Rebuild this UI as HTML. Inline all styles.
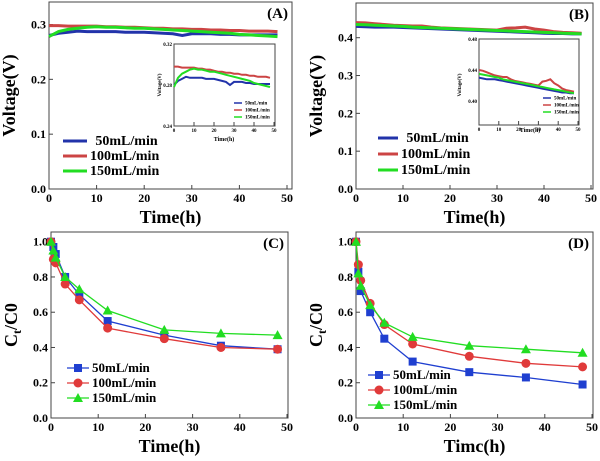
<!DOCTYPE html>
<html><head><meta charset="utf-8"><style>
html,body{margin:0;padding:0;background:#fff}
svg{display:block;font-family:"Liberation Serif",serif;font-weight:bold}
</style></head><body>
<svg id="fig" width="600" height="461" viewBox="0 0 600 461"></svg>
<script>
// ---------- data ----------
const vTimes = [0,2,4,6,8,10,12,14,16,18,20,22,24,26,28,30,32,34,36,38,40,42,44,46,48];
const aBlue  = [0.280,0.284,0.286,0.288,0.287,0.287,0.287,0.287,0.286,0.286,0.286,0.285,0.284,0.283,0.280,0.283,0.283,0.283,0.282,0.282,0.281,0.281,0.281,0.281,0.281];
const aRed   = [0.298,0.298,0.297,0.297,0.297,0.297,0.296,0.296,0.295,0.295,0.294,0.293,0.293,0.292,0.292,0.291,0.291,0.290,0.290,0.289,0.289,0.288,0.288,0.288,0.287];
const aGreen = [0.278,0.287,0.291,0.293,0.295,0.296,0.295,0.295,0.294,0.293,0.293,0.292,0.291,0.290,0.289,0.288,0.287,0.286,0.285,0.284,0.282,0.281,0.280,0.279,0.278];
const bBlue  = [0.430,0.429,0.428,0.428,0.428,0.427,0.426,0.425,0.424,0.423,0.422,0.421,0.420,0.419,0.418,0.417,0.416,0.415,0.414,0.413,0.412,0.411,0.411,0.410,0.410];
const bRed   = [0.440,0.439,0.437,0.435,0.433,0.432,0.431,0.431,0.428,0.426,0.425,0.424,0.423,0.422,0.421,0.420,0.425,0.426,0.428,0.423,0.420,0.416,0.414,0.413,0.412];
const bGreen = [0.435,0.434,0.433,0.432,0.431,0.430,0.428,0.427,0.426,0.425,0.424,0.423,0.422,0.421,0.420,0.419,0.418,0.417,0.416,0.415,0.414,0.413,0.412,0.411,0.410];
const cTimes = [0,0.5,1,3,6,12,24,36,48];
const cBlue  = [1.0,0.97,0.93,0.80,0.70,0.55,0.47,0.41,0.39];
const cRed   = [1.0,0.90,0.88,0.76,0.67,0.51,0.45,0.40,0.39];
const cGreen = [1.0,0.95,0.91,0.80,0.73,0.61,0.50,0.48,0.47];
const dBlue  = [1.0,0.83,0.72,0.60,0.45,0.32,0.26,0.23,0.19];
const dRed   = [1.0,0.87,0.78,0.65,0.53,0.42,0.35,0.31,0.29];
const dGreen = [1.0,0.82,0.75,0.64,0.54,0.46,0.41,0.39,0.37];
const xTicks = [0,10,20,30,40,50];
const seriesLabels = ["50mL/min","100mL/min","150mL/min"];
const BLUE="#1f3fd0", RED="#e03a3a", GREEN="#22dd22";
const LBLUE="#2233aa", LRED="#cc4444";

const NS="http://www.w3.org/2000/svg";
const svg=document.getElementById('fig');
function mk(tag,attrs,parent){const e=document.createElementNS(NS,tag);for(const k in attrs)e.setAttribute(k,attrs[k]);(parent||svg).appendChild(e);return e;}
function txt(s,attrs,parent){const e=mk('text',attrs,parent);e.textContent=s;return e;}

function panel(p){
  const g=mk('g',{});
  
  
  const sx=v=>p.x0+(v-0)/(50-0)*(p.x1-p.x0);
  const sy=v=>p.y0-(v-p.ymin)/(p.ymax-p.ymin)*(p.y0-p.y1);
  const fr=mk('rect',{x:p.x0,y:p.top,width:p.right-p.x0,height:p.y0-p.top,fill:'none',stroke:'#444','stroke-width':1},g);
  
  const fs=p.fs||12;
  xTicks.forEach(t=>{
    mk('line',{x1:sx(t),x2:sx(t),y1:p.y0,y2:p.y0-4,stroke:'#444'},g);
    const l=txt(String(t),{x:sx(t),y:p.y0+fs+1,'text-anchor':'middle','font-size':fs},g);
    
  });
  p.yTicks.forEach(t=>{
    mk('line',{x1:p.x0,x2:p.x0+4,y1:sy(t),y2:sy(t),stroke:'#444'},g);
    const l=txt(t.toFixed(1),{x:p.x0-3,y:sy(t)+4,'text-anchor':'end','font-size':fs},g);
    
  });
  if(p.xTitle){
    const xt=txt(p.xTitle,{x:(p.x0+p.right)/2,y:p.y0+34,'text-anchor':'middle','font-size':18},g);
    
  }
  if(p.yTitle){
    const yt=mk('text',{x:0,y:0,'text-anchor':'middle','font-size':18,transform:`translate(${p.x0-34},${(p.top+p.y0)/2}) rotate(-90)`},g);
    if(p.yTitle==='Ct/C0'){
      yt.appendChild(document.createTextNode('C'));
      const s1=mk('tspan',{'font-size':12,dy:4},yt);s1.textContent='t';
      const s2=mk('tspan',{dy:-4},yt);s2.textContent='/C0';
    } else yt.textContent=p.yTitle;
    
  }
  if(p.label){
    const pl=txt(p.label,{x:p.right-4,y:p.top+16,'text-anchor':'end','font-size':15},g);
    
  }
  return {g,sx,sy};
}

function voltageLines(P,series,colors,w){
  series.forEach((s,i)=>{
    const d=s.map((v,j)=>(j?'L':'M')+P.sx(vTimes[j]).toFixed(1)+','+P.sy(v).toFixed(1)).join('');
    const l=mk('path',{d,fill:'none',stroke:colors[i],'stroke-width':w},P.g);
    
    
  });
}
function legendLines(g,x,y,colors,len,fs,dy){
  seriesLabels.forEach((s,i)=>{
    mk('line',{x1:x,x2:x+len,y1:y+i*dy,y2:y+i*dy,stroke:colors[i],'stroke-width':fs<8?1.5:3},g);
    const t=txt(s,{x:x+len+(i==0?fs*0.6:3),y:y+i*dy+fs*0.3,'font-size':fs},g);
    
  });
}

// Panel A
const A=panel({name:'panel-a-voltage',x0:49,x1:287,right:292,top:2,y0:189,y1:24.5,ymin:0,ymax:0.3,yTicks:[0,0.1,0.2,0.3],xTitle:'Time(h)',yTitle:'Voltage(V)',label:'(A)'});
voltageLines(A,[aBlue,aRed,aGreen],[LBLUE,LRED,GREEN],3);
legendLines(A.g,63,141,[LBLUE,LRED,GREEN],24,14,15);
// inset A
const IA=panel({name:'panel-a-inset',x0:174,x1:274,right:275,top:44,y0:126,y1:44,ymin:0.24,ymax:0.32,yTicks:[],xTitle:'',yTitle:'',label:'',fs:5});
[["0.32",0.32],["0.28",0.28],["0.24",0.24]].forEach(([s,v])=>txt(s,{x:172,y:IA.sy(v)+2,'text-anchor':'end','font-size':5},IA.g));
txt('Voltage(V)',{x:0,y:0,'font-size':5,'text-anchor':'middle',transform:'translate(161,85) rotate(-90)'},IA.g);
txt('Time(h)',{x:224,y:141,'font-size':6,'text-anchor':'middle'},IA.g);
voltageLines(IA,[aBlue,aRed,aGreen],[LBLUE,LRED,GREEN],2);
legendLines(IA.g,234,103,[LBLUE,LRED,GREEN],8,5,7);

// Panel B
const B=panel({name:'panel-b-voltage',x0:356,x1:591,right:593,top:3,y0:189,y1:37.7,ymin:0,ymax:0.4,yTicks:[0,0.1,0.2,0.3,0.4],xTitle:'Time(h)',yTitle:'Voltage(V)',label:'(B)'});
voltageLines(B,[bBlue,bRed,bGreen],[LBLUE,LRED,GREEN],3);
legendLines(B.g,378,138,[LBLUE,LRED,GREEN],20,14,16);
const IB=panel({name:'panel-b-inset',x0:479,x1:578,right:579,top:39,y0:125,y1:39,ymin:0.369,ymax:0.48,yTicks:[],xTitle:'',yTitle:'',label:'',fs:5});
[["0.48",0.48],["0.44",0.44],["0.40",0.40]].forEach(([s,v])=>txt(s,{x:477,y:IB.sy(v)+2,'text-anchor':'end','font-size':5},IB.g));
txt('Voltage(V)',{x:0,y:0,'font-size':5,'text-anchor':'middle',transform:'translate(461,85) rotate(-90)'},IB.g);
txt('Time(h)',{x:530,y:132,'font-size':6,'text-anchor':'middle'},IB.g);
voltageLines(IB,[bBlue,bRed,bGreen],[LBLUE,LRED,GREEN],2);
legendLines(IB.g,543,98,[LBLUE,LRED,GREEN],8,5,7);

// C & D
function decay(P,series){
  const shapes=['square','circle','triangle'];
  const cols=[BLUE,RED,GREEN];
  series.forEach((s,i)=>{
    const d=s.map((v,j)=>(j?'L':'M')+P.sx(cTimes[j]).toFixed(1)+','+P.sy(v).toFixed(1)).join('');
    const l=mk('path',{d,fill:'none',stroke:cols[i],'stroke-width':1.3},P.g);
    
    s.forEach((v,j)=>{
      const x=P.sx(cTimes[j]),y=P.sy(v);let m;
      if(shapes[i]=='square')m=mk('rect',{x:x-4,y:y-4,width:8,height:8,fill:cols[i]},P.g);
      else if(shapes[i]=='circle')m=mk('circle',{cx:x,cy:y,r:4.5,fill:cols[i]},P.g);
      else m=mk('polygon',{points:`${x},${y-5} ${x-5},${y+4} ${x+5},${y+4}`,fill:cols[i]},P.g);
      
    });
  });
}
function markerLegend(g,x,y){
  const cols=[BLUE,RED,GREEN];
  seriesLabels.forEach((s,i)=>{
    const yy=y+i*15;
    mk('line',{x1:x,x2:x+22,y1:yy,y2:yy,stroke:cols[i],'stroke-width':1.3},g);
    const cx=x+11;
    if(i==0)mk('rect',{x:cx-4,y:yy-4,width:8,height:8,fill:cols[i]},g);
    else if(i==1)mk('circle',{cx,cy:yy,r:4.5,fill:cols[i]},g);
    else mk('polygon',{points:`${cx},${yy-5} ${cx-5},${yy+4} ${cx+5},${yy+4}`,fill:cols[i]},g);
    const t=txt(s,{x:x+25,y:yy+4,'font-size':13},g);
    
  });
}
const C=panel({name:'panel-c-concentration',x0:51,x1:287,right:288,top:232,y0:418,y1:241.7,ymin:0,ymax:1.0,yTicks:[0,0.2,0.4,0.6,0.8,1.0],xTitle:'Time(h)',yTitle:'Ct/C0',label:'(C)'});
decay(C,[cBlue,cRed,cGreen]);
markerLegend(C.g,67,368);
const D=panel({name:'panel-d-concentration',x0:356,x1:592,right:593,top:232,y0:418,y1:241.7,ymin:0,ymax:1.0,yTicks:[0,0.2,0.4,0.6,0.8,1.0],xTitle:'Timc(h)',yTitle:'Ct/C0',label:'(D)'});
decay(D,[dBlue,dRed,dGreen]);
markerLegend(D.g,368,375);
</script>
</body></html>
